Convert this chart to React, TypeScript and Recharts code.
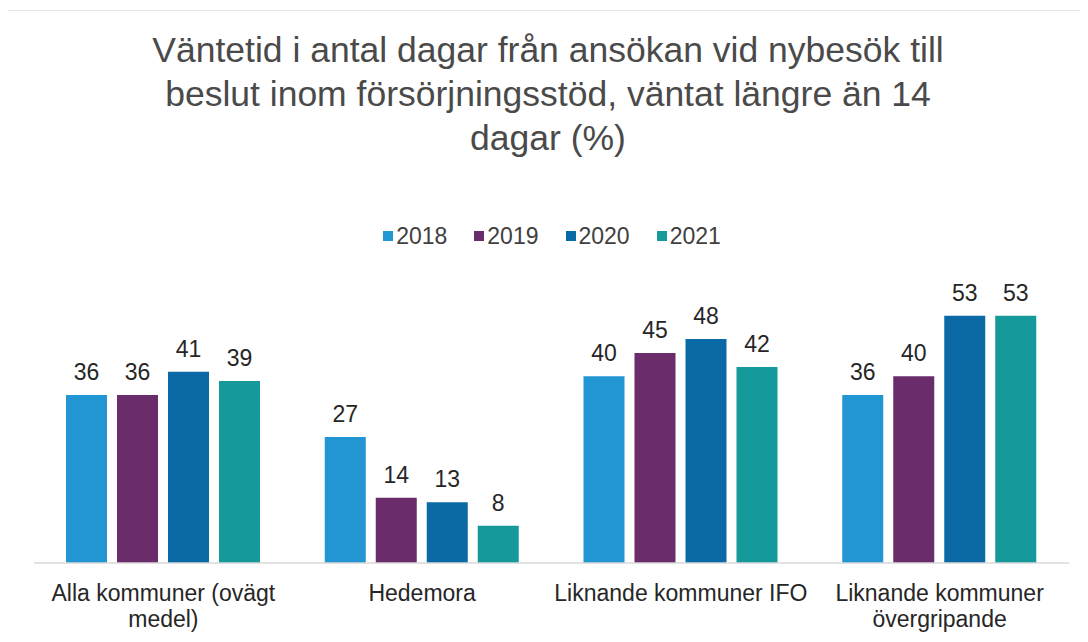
import { Bar, BarChart, LabelList, XAxis, YAxis } from "recharts";

const categories = [
  "Alla kommuner (ovägt medel)",
  "Hedemora",
  "Liknande kommuner IFO",
  "Liknande kommuner övergripande",
];
const years = ["2018", "2019", "2020", "2021"];
const values2018 = [36, 27, 40, 36];
const values2019 = [36, 14, 45, 40];
const values2020 = [41, 13, 48, 53];
const values2021 = [39, 8, 42, 53];
const colors = ["#2196d3", "#6a2c6a", "#0b6aa6", "#16999b"];

const seriesValues = [values2018, values2019, values2020, values2021];

const chartData = categories.map((name, i) => {
  const row: Record<string, string | number> = { name };
  years.forEach((y, s) => {
    row[y] = seriesValues[s][i];
  });
  return row;
});

const FONT = "'Liberation Sans', Arial, sans-serif";
const TICK_SIZE = 23;

let ctx: CanvasRenderingContext2D | null = null;
function measure(text: string) {
  if (!ctx) {
    ctx = document.createElement("canvas").getContext("2d");
  }
  if (!ctx) return text.length * TICK_SIZE * 0.5;
  ctx.font = `${TICK_SIZE}px 'Liberation Sans', Arial, sans-serif`;
  return ctx.measureText(text).width;
}

function wrap(text: string, maxWidth: number) {
  const words = text.split(" ");
  const lines: string[] = [];
  let current = "";
  words.forEach((w) => {
    const next = current ? current + " " + w : w;
    if (current && measure(next) > maxWidth) {
      lines.push(current);
      current = w;
    } else {
      current = next;
    }
  });
  if (current) lines.push(current);
  return lines;
}

function CategoryTick(props: any) {
  const { x, y, payload } = props;
  const lines = wrap(String(payload.value), 272);
  return (
    <text
      x={x}
      y={y + 30}
      textAnchor="middle"
      fontSize={TICK_SIZE}
      fill="#262626"
      fontFamily={FONT}
    >
      {lines.map((l, i) => (
        <tspan key={i} x={x} dy={i === 0 ? 0 : 26}>
          {l}
        </tspan>
      ))}
    </text>
  );
}

export default function App() {
  return (
    <div
      style={{
        position: "relative",
        width: 1088,
        height: 642,
        margin: -8,
        background: "#ffffff",
        overflow: "hidden",
      }}
    >
      <div
        style={{
          position: "absolute",
          left: 3,
          top: 10,
          width: 1080,
          height: 628,
          border: "1px solid #e6e6e6",
          boxSizing: "border-box",
        }}
      />
      <div
        style={{
          position: "absolute",
          left: 0,
          top: 28,
          width: 1096,
          textAlign: "center",
          fontFamily: FONT,
          fontSize: 35.5,
          lineHeight: "44px",
          color: "#4a4a4a",
        }}
      >
        Väntetid i antal dagar från ansökan vid nybesök till
        <br />
        beslut inom försörjningsstöd, väntat längre än 14
        <br />
        dagar (%)
      </div>
      <div
        style={{
          position: "absolute",
          left: 0,
          top: 222,
          width: 1104,
          display: "flex",
          justifyContent: "center",
          fontFamily: FONT,
          fontSize: 23,
          lineHeight: "28px",
          color: "#404040",
        }}
      >
        {years.map((y, i) => (
          <div key={y} style={{ display: "flex", alignItems: "center", marginRight: i < years.length - 1 ? 27 : 0 }}>
            <span style={{ width: 10, height: 10, background: colors[i], display: "inline-block", marginRight: 3 }} />
            <span>{y}</span>
          </div>
        ))}
      </div>
      <BarChart
        width={1088}
        height={642}
        data={chartData}
        margin={{ top: 283, right: 19, bottom: 0, left: 34 }}
        barCategoryGap={32}
        barGap={10}
        style={{ position: "absolute", left: 0, top: 0 }}
      >
        <XAxis
          dataKey="name"
          height={79}
          tickLine={false}
          axisLine={{ stroke: "#d9d9d9", strokeWidth: 1.5 }}
          tick={<CategoryTick />}
          interval={0}
        />
        <YAxis hide domain={[0, 60]} />
        {years.map((y, i) => (
          <Bar key={y} dataKey={y} fill={colors[i]} isAnimationActive={false}>
            <LabelList
              dataKey={y}
              position="top"
              offset={15}
              fill="#262626"
              fontSize={23}
              fontFamily={FONT}
            />
          </Bar>
        ))}
      </BarChart>
    </div>
  );
}
